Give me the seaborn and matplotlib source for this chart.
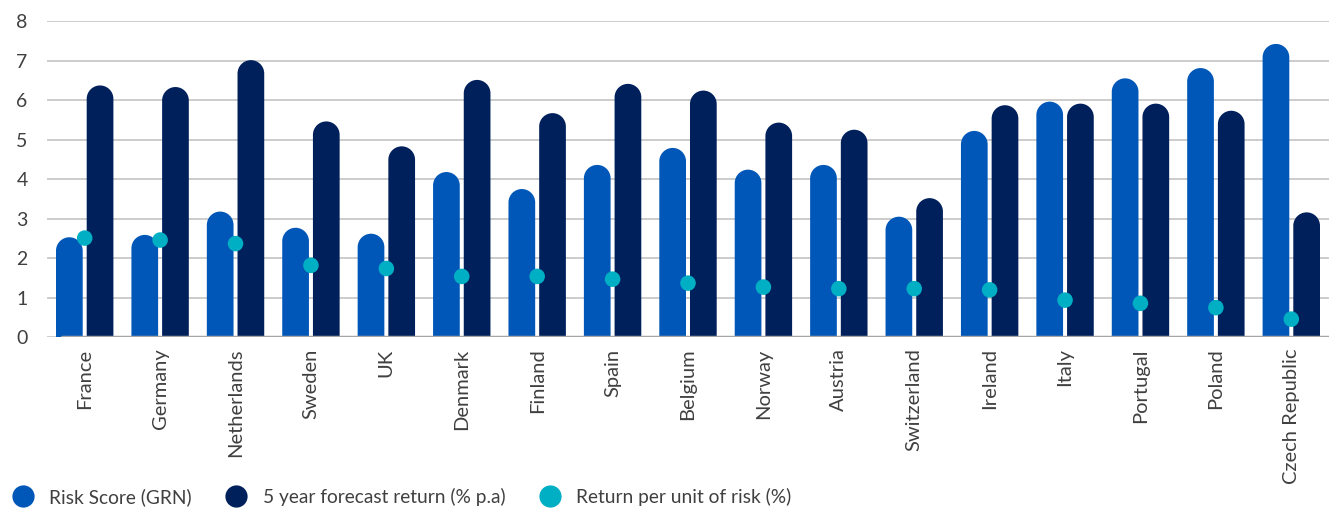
import numpy as np
import pandas as pd
import matplotlib
matplotlib.use("Agg")
import matplotlib.pyplot as plt
import seaborn as sns
from matplotlib.path import Path
from matplotlib.patches import PathPatch
from matplotlib.lines import Line2D

countries = ["France", "Germany", "Netherlands", "Sweden", "UK", "Denmark", "Finland",
             "Spain", "Belgium", "Norway", "Austria", "Switzerland", "Ireland", "Italy",
             "Portugal", "Poland", "Czech Republic"]
risk_score = [2.53, 2.59, 3.18, 2.77, 2.62, 4.18, 3.75, 4.36, 4.79, 4.24, 4.36, 3.05,
              5.22, 5.96, 6.55, 6.81, 7.42]
forecast_return = [6.37, 6.33, 7.01, 5.46, 4.83, 6.51, 5.67, 6.41, 6.24, 5.43, 5.25, 3.52,
                   5.87, 5.91, 5.91, 5.73, 3.16]
return_per_risk = [2.51, 2.46, 2.37, 1.82, 1.74, 1.54, 1.54, 1.47, 1.37, 1.27, 1.23, 1.23,
                   1.20, 0.94, 0.86, 0.75, 0.46]
series_names = ["Risk Score (GRN)", "5 year forecast return (% p.a)", "Return per unit of risk (%)"]
y_ticks = [0, 1, 2, 3, 4, 5, 6, 7, 8]

BLUE = "#0057B8"
NAVY = "#00205C"
CYAN = "#00AFC3"
TEXT = "#404040"

sns.set_theme(style="white")
plt.rcParams["font.family"] = ["Lato", "DejaVu Sans"]

df = pd.DataFrame({
    "country": countries * 2,
    "value": risk_score + forecast_return,
    "series": [series_names[0]] * len(countries) + [series_names[1]] * len(countries),
})
dots = pd.DataFrame({"country": countries, "value": return_per_risk})

fig = plt.figure(figsize=(13.3, 5.09), dpi=100)
ax = fig.add_axes([47 / 1330, 1 - 337.3 / 509, (1329 - 47) / 1330, (337.3 - 21) / 509])

sns.barplot(data=df, x="country", y="value", hue="series", palette=[BLUE, NAVY],
            width=0.814, gap=0.13, saturation=1, ax=ax, legend=False, linewidth=0)

ax.set_xlim(-0.5, len(countries) - 0.5)
ax.set_ylim(0, 8)

# rounded tops: replace rectangles with rounded-top paths (circular in pixel space)
fig.canvas.draw()
p = ax.transData.transform([[0, 0], [1, 1]])
sx, sy = p[1] - p[0]
k = 0.5523
for rect in list(ax.patches):
    x0, w, h = rect.get_x(), rect.get_width(), rect.get_height()
    if w == 0 or h == 0:
        continue
    rx = w / 2
    ry = rx * sx / sy
    cx = x0 + rx
    b = h - ry
    verts = [(x0, 0), (x0, b),
             (x0, b + k * ry), (cx - k * rx, h), (cx, h),
             (cx + k * rx, h), (x0 + w, b + k * ry), (x0 + w, b),
             (x0 + w, 0), (x0, 0)]
    codes = [Path.MOVETO, Path.LINETO,
             Path.CURVE4, Path.CURVE4, Path.CURVE4,
             Path.CURVE4, Path.CURVE4, Path.CURVE4,
             Path.LINETO, Path.CLOSEPOLY]
    patch = PathPatch(Path(verts, codes), facecolor=rect.get_facecolor(), edgecolor="none", zorder=2)
    rect.set_visible(False)
    ax.add_patch(patch)

sns.scatterplot(data=dots, x="country", y="value", color=CYAN, s=125, edgecolor="none",
                zorder=5, ax=ax, legend=False)

ax.set_yticks(y_ticks)
ax.yaxis.grid(True, color="#C4C4C4", linewidth=1.2)
ax.set_axisbelow(True)
for s in ax.spines.values():
    s.set_visible(False)
ax.axhline(0, xmin=0.012, xmax=1, color="#A6A6A6", linewidth=2.5, zorder=3)

ax.set_xlabel("")
ax.set_ylabel("")
ax.tick_params(axis="y", length=0, pad=14, labelsize=14, labelcolor=TEXT)
ax.tick_params(axis="x", length=0, pad=8, labelsize=14.5, labelcolor=TEXT)
ax.set_xticks(range(len(countries)))
ax.set_xticklabels(countries, rotation=90, va="top", ha="center")

handles = [Line2D([], [], marker="o", ls="", markersize=16, markerfacecolor=c, markeredgecolor="none")
           for c in (BLUE, NAVY, CYAN)]
fig.legend(handles, series_names, loc="center left", bbox_to_anchor=(0.009, 1 - 497 / 509),
           ncol=3, frameon=False, fontsize=13.8, handlelength=1.1, handletextpad=0.85,
           columnspacing=1.75, borderpad=0, borderaxespad=0, labelcolor=TEXT)

fig.savefig("out.png", dpi=100)
